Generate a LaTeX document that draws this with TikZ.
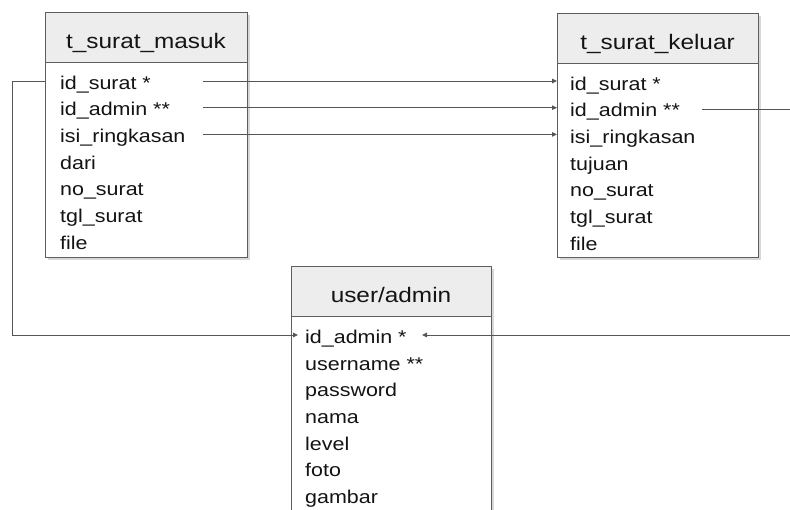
\documentclass[tikz,border=0pt]{standalone}
\usepackage{fontspec}
\setmainfont{Liberation Sans}
\newfontfamily\erdfont[FakeStretch=1.16]{Liberation Sans}
\usetikzlibrary{arrows.meta}
\definecolor{edgec}{HTML}{5E5E5E}
\definecolor{headc}{HTML}{EDEDED}
\definecolor{shadec}{HTML}{D8D8D8}
\definecolor{linkc}{HTML}{555555}
\definecolor{txtc}{HTML}{141414}
\begin{document}
\begin{tikzpicture}[x=1pt,y=-1pt,
  tablebody/.style={draw=edgec, line width=1.3pt, fill=white, inner sep=0pt, anchor=north west},
  tablehead/.style={draw=edgec, line width=1.3pt, fill=headc, inner sep=0pt, anchor=north west, minimum height=50pt},
  tableshadow/.style={fill=shadec},
  headtext/.style={font=\erdfont\fontsize{21}{21}\selectfont, text=txtc, inner sep=0pt, anchor=base},
  field/.style={font=\erdfont\fontsize{18.5}{18.5}\selectfont, text=txtc, inner sep=0pt, anchor=base west},
  link/.style={draw=linkc, line width=0.9pt},
  linkarrow/.style={link, -{Triangle[length=5pt,width=4.5pt]}}
]
\useasboundingbox (0,0) rectangle (790,509);
\clip (0,0) rectangle (790,509);

% ---- table t_surat_masuk ----
\fill[tableshadow] (48,15) rectangle (250,260);
\node[tablebody, minimum width=202pt, minimum height=245pt] (masuk) at (45,12) {};
\node[tablehead, minimum width=202pt] (masukH) at (45,12) {};
\node[headtext] (masukT) at (146,48) {t\_surat\_masuk};
\foreach \t [count=\i] in {id\_surat *, id\_admin **, isi\_ringkasan, dari, no\_surat, tgl\_surat, file}
  \node[field] (ms\i) at (60,{89+26.7*(\i-1)}) {\t};
\foreach \i in {1,2,3}
  \coordinate (msr\i) at (203,{81+26.7*(\i-1)});

% ---- table t_surat_keluar ----
\fill[tableshadow] (560,16) rectangle (761,260);
\node[tablebody, minimum width=201pt, minimum height=244pt] (keluar) at (557,13) {};
\node[tablehead, minimum width=201pt] (keluarH) at (557,13) {};
\node[headtext] (keluarT) at (657.5,49) {t\_surat\_keluar};
\foreach \t [count=\i] in {id\_surat *, id\_admin **, isi\_ringkasan, tujuan, no\_surat, tgl\_surat, file}
  \node[field] (kl\i) at (570,{90+26.7*(\i-1)}) {\t};
\coordinate (klr2) at (702,109);
\coordinate (eastout) at (792,109);

% ---- table user/admin ----
\fill[tableshadow] (294,269) rectangle (494,540);
\node[tablebody, minimum width=200pt, minimum height=270pt] (user) at (291,266) {};
\node[tablehead, minimum width=200pt] (userH) at (291,266) {};
\node[headtext] (userT) at (391,302) {user/admin};
\foreach \t [count=\i] in {id\_admin *, username **, password, nama, level, foto, gambar}
  \node[field] (ua\i) at (305,{343.3+26.7*(\i-1)}) {\t};
\coordinate (uar1) at (422,335);
\coordinate (uatip) at (298,335);
\coordinate (eastin) at (792,335);
\coordinate (westbend) at (12,81);

% ---- connectors ----
\foreach \i in {1,2,3}
  \draw[linkarrow] (msr\i) -- (msr\i -| keluar.west);
\draw[link] (klr2) -- (eastout);
\draw[linkarrow] (eastin) -- (uar1);
\draw[linkarrow] (masuk.west |- msr1) -- (westbend) |- (uatip);
\end{tikzpicture}
\end{document}
